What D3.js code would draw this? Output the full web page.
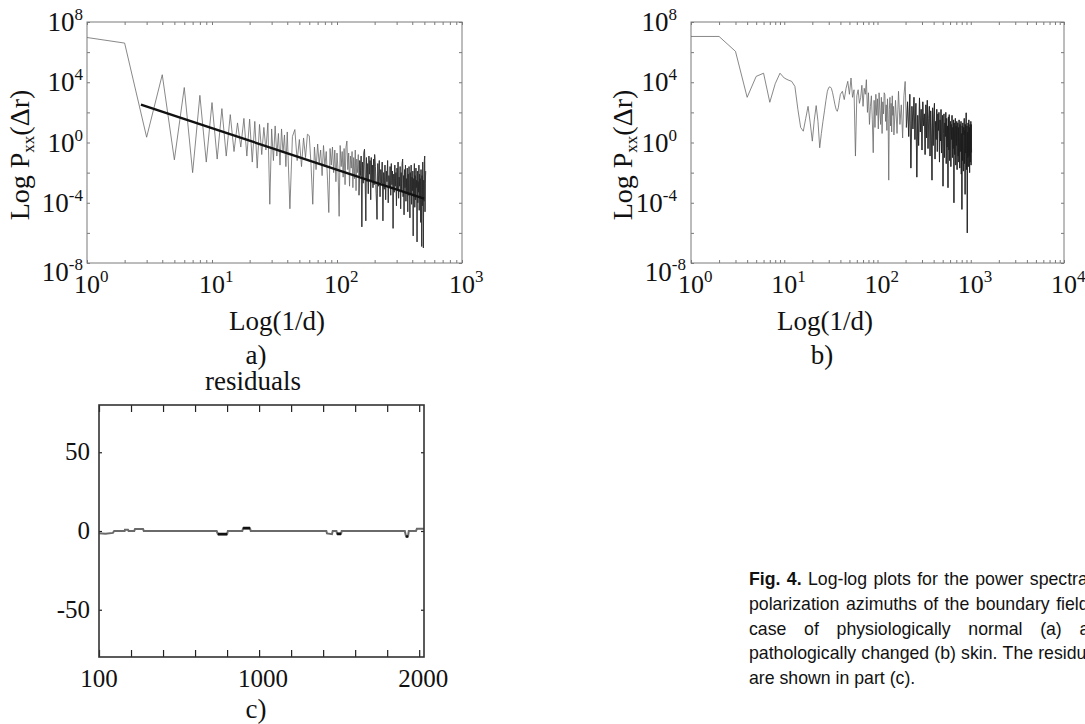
<!DOCTYPE html>
<html>
<head>
<meta charset="utf-8">
<script src="https://cdn.jsdelivr.net/npm/d3@7"></script>
<style>
body{margin:0;background:#fff;}
svg{display:block;}
</style>
</head>
<body>
<svg id="fig" width="1085" height="724"></svg>
<script>
// ---- panel a: log10 of power, bins 1..40, 42..200 (step 2), 203..512 (step 3)
const logPa1 = [6.97,6.6,0.35,4.5,-1.15,3.65,-2.0,3.13,-1.3,2.65,
  -1.1,2.25,-0.9,1.85,-0.6,1.3,-0.3,1.6,-0.9,1.55,
  -1.3,1.4,-1.7,1.2,-0.8,1.0,-0.5,1.3,-4.1,0.9,
  -1.2,1.1,-0.9,0.6,-1.5,0.9,-0.7,0.5,-1.6,0.7];
const logPa2 = [-4.4,0.4,0.86,-1.2,0.2,-1.6,0.3,-1.0,0.55,0.45,
  -1.5,-4.1,-0.3,-1.8,-0.1,-1.4,-0.5,-2.2,-0.2,-1.6,
  -0.6,-2.5,-4.65,-0.4,-1.5,-0.3,-2.0,-0.5,-2.6,-0.7,
  -1.9,-4.9,-0.2,-1.6,-0.6,-2.3,-0.4,-2.8,-0.3,0.1,
  -1.8,-0.7,-2.9,-0.9,-1.7,-0.6,-3.0,-1.0,-2.4,-0.5,
  -3.2,-1.1,-2.0,-0.8,-3.5,-1.2,-2.2,-0.9,-5.6,-1.3,
  -2.7,-0.7,-0.45,-2.3,-5.2,-1.0,-2.6,-1.4,-3.4,-0.9,
  -2.1,-1.2,-3.8,-1.0,-2.5,-1.5,-3.0,-1.1,-2.8,-0.8];
const logPa3 = [-1.6,-3.4,-5.1,-1.4,-2.9,-1.2,-3.6,-1.8,-2.7,-1.3,
  -5.2,-2.0,-3.1,-1.5,-3.8,-1.9,-2.6,-1.2,-4.0,-2.2,
  -3.0,-1.6,-3.5,-1.4,-2.8,-1.9,-5.7,-2.1,-3.3,-1.5,
  -2.9,-2.0,-4.2,-1.7,-3.1,-1.3,-3.7,-2.3,-2.9,-1.6,
  -4.4,-2.0,-3.2,-1.4,-1.1,-3.6,-2.2,-4.8,-1.8,-3.0,
  -1.5,-3.9,-2.4,-3.3,-1.7,-4.6,-2.1,-3.5,-1.6,-2.9,
  -5.0,-2.0,-3.4,-1.5,-4.1,-2.3,-3.2,-1.9,-6.2,-2.4,
  -3.6,-1.4,-4.3,-2.2,-3.8,-1.7,-3.0,-2.5,-6.6,-1.9,
  -4.0,-2.6,-3.3,-1.5,-4.5,-2.1,-3.7,-2.4,-5.3,-1.8,
  -3.4,-6.9,-2.2,-4.2,-1.3,-3.1,-7.0,-2.5,-3.9,-1.2,
  -0.9,-4.6,-2.7,-1.9];

// fitted line over panel a (end points)
const fitFreqA = [2.7, 497];
const fitLogPA = [2.52, -3.73];

// ---- panel b: bins 1..40, 42..150 (step 2), 156..1020 (step 6)
const logPb1 = [7.04,7.04,6.05,3.0,4.39,4.6,2.67,3.9,4.6,4.28,
  4.15,4.06,3.73,2.2,1.0,0.75,1.6,2.4,1.3,0.09,
  1.5,2.45,1.4,-0.35,0.6,1.4,2.1,2.8,3.4,3.65,
  3.7,3.6,3.3,2.9,2.5,2.2,2.07,2.3,2.8,3.2];
const logPb2 = [3.4,2.85,3.6,4.06,3.2,4.28,3.0,3.5,-0.9,3.1,
  3.5,2.6,3.0,3.8,2.4,3.6,3.2,4.17,2.0,3.3,
  1.2,2.4,3.1,1.5,-0.68,2.8,1.0,3.2,1.8,2.9,
  0.9,3.3,2.1,1.2,3.0,0.6,2.7,1.9,3.3,3.18,
  1.4,2.5,0.8,2.9,1.6,-2.5,2.2,3.0,1.1,2.6,
  0.7,3.1,1.8,2.4,0.5];
const logPb3 = [2.8,0.6,3.4,1.2,2.5,0.3,3.1,4.05,1.0,2.7,
  0.4,3.2,-1.7,2.4,0.9,3.0,0.2,2.6,-2.3,1.8,
  -0.2,2.96,0.7,2.2,-0.5,2.7,1.1,1.9,-0.8,2.5,
  0.3,2.8,-0.4,1.6,2.4,-0.9,2.1,0.5,-2.5,2.3,
  -0.2,1.7,2.6,-1.1,1.4,0.2,2.2,-0.6,1.9,0.8,
  2.0,-1.3,1.5,0.1,2.19,-0.7,1.2,1.8,-2.9,0.6,
  1.9,-1.0,1.3,0.4,2.0,-1.4,1.6,-0.3,1.1,-3.0,
  1.7,-0.5,1.85,-1.2,0.9,1.4,-1.6,1.2,0.2,1.8,
  -1.0,1.0,-0.4,1.5,-4.0,1.3,-0.8,0.7,1.6,-1.5,
  1.1,-0.2,1.4,-1.8,0.8,1.3,-0.9,1.0,-1.3,1.5,
  0.3,-1.7,1.2,-0.6,0.9,1.4,-2.1,0.6,-4.44,1.1,
  -1.2,1.3,0.1,-1.9,1.0,0.5,1.6,-1.4,0.8,-3.44,
  1.2,-0.7,0.9,1.97,-1.8,0.4,1.1,-6.0,0.7,-1.0,
  1.3,-1.6,0.5,1.5,-0.9,1.0,-2.0,0.8,1.2,-1.3,
  0.6,1.4,-1.5,1.19,-0.66];

// ---- panel c: residuals [sample, value]
const residuals = [[0,-1.5],[40,-1.8],[87,-1.2],[95,0],[160,0],[162,0.8],[181,0.8],[185,0],
  [220,0],[225,1.2],[275,1.2],[280,0],[735,0],[743,-2],[800,-2],[805,0],
  [895,0],[900,1.8],[943,1.8],[948,0],[1420,0],[1424,-1.5],[1455,-2],[1460,0],
  [1483,0],[1487,-1.8],[1512,-1.8],[1516,0],[1910,0],[1918,-3.5],[1930,-3.5],[1935,0],
  [1980,0],[1986,1.5],[2030,1.5]];

// ---- ticks and labels
const xExpA = [0,1,2,3];
const xExpB = [0,1,2,3,4];
const yExpLabels = [8,4,0,-4,-8];
const yExpTicks = [8,6,4,2,0,-2,-4,-6,-8];
const xTicksC = [0,200,400,600,800,1000,1200,1400,1600,1800,2000];
const xLabelValsC = [0,1000,2000];
const xLabelTextC = ["100","1000","2000"];
const yTicksC = [50,0,-50];

const captionLines = [
  "Fig. 4. Log-log plots for the power spectra of",
  "polarization azimuths of the boundary field in",
  "case of physiologically normal (a) and",
  "pathologically changed (b) skin. The residuals",
  "are shown in part (c)."
];

const serif = "'Liberation Serif','Times New Roman',serif";
const sans = "'Liberation Sans',Arial,sans-serif";

function bins(start, step, vals){
  return vals.map((v,i)=>({f:start+i*step, p:Math.pow(10,v)}));
}
const specA = [...bins(1,1,logPa1), ...bins(42,2,logPa2), ...bins(203,3,logPa3)];
const specB = [...bins(1,1,logPb1), ...bins(42,2,logPb2), ...bins(156,6,logPb3)];
const fitA = fitFreqA.map((f,i)=>({f:f, p:Math.pow(10,fitLogPA[i])}));

const svg = d3.select("#fig");
const frameCol = "#7a7a7a";

const yLogA = d3.scaleLog().domain([1e-8,1e8]).range([263,22]);
const xA = d3.scaleLog().domain([1,1000]).range([87,462]);
const xB = d3.scaleLog().domain([1,1e4]).range([691,1064]);
const xC = d3.scaleLinear().domain([0,2030]).range([99,424]);
const yC = d3.scaleLinear().domain([-80,80]).range([657,405]);

function clean(g){ g.select(".domain").remove(); g.selectAll(".tick line").attr("stroke",frameCol); }

function logPanel(id, x, y, exps, labelRight, lowShift, series, ylabX, xlabX, tag, tagX){
  const g = svg.append("g");
  const [x0,x1] = x.range(), [yb,yt] = y.range();
  g.append("clipPath").attr("id",id).append("rect")
    .attr("x",x0).attr("y",yt).attr("width",x1-x0).attr("height",yb-yt);

  const yt_vals = yExpTicks.map(e=>Math.pow(10,e));
  const xt = x.ticks();
  g.append("g").attr("transform",`translate(0,${yb})`)
    .call(d3.axisTop(x).tickValues(xt).tickSize(3).tickFormat("")).call(clean);
  g.append("g").attr("transform",`translate(0,${yt})`)
    .call(d3.axisBottom(x).tickValues(xt).tickSize(3).tickFormat("")).call(clean);
  g.append("g").attr("transform",`translate(${x0},0)`)
    .call(d3.axisRight(y).tickValues(yt_vals).tickSize(3).tickFormat("")).call(clean);
  g.append("g").attr("transform",`translate(${x1},0)`)
    .call(d3.axisLeft(y).tickValues(yt_vals).tickSize(3).tickFormat("")).call(clean);

  g.append("rect").attr("x",x0).attr("y",yt).attr("width",x1-x0).attr("height",yb-yt)
    .attr("fill","none").attr("stroke",frameCol).attr("stroke-width",1);

  series.forEach(s=>{
    g.append("path").datum(s.data)
      .attr("clip-path",`url(#${id})`)
      .attr("fill","none").attr("stroke",s.col).attr("stroke-width",s.w)
      .attr("stroke-linejoin","round")
      .attr("d", d3.line().x(d=>x(d.f)).y(d=>y(d.p)));
  });

  // y tick labels 10^n
  yExpLabels.forEach(e=>{
    const t = g.append("text").attr("font-family",serif).attr("font-size",27)
      .attr("text-anchor","end").attr("fill","#111")
      .attr("x", labelRight + (e===-8 ? lowShift : 0))
      .attr("y", y(Math.pow(10,e)) + (e===-8 ? 18 : 9));
    t.append("tspan").text("10");
    t.append("tspan").attr("dy",-11).attr("font-size",17).text(e);
  });
  // x tick labels 10^n
  exps.forEach(e=>{
    const t = g.append("text").attr("font-family",serif).attr("font-size",26)
      .attr("fill","#111").attr("x", x(Math.pow(10,e)) - 13).attr("y", 293);
    t.append("tspan").text("10");
    t.append("tspan").attr("dy",-11).attr("font-size",17).text(e);
  });

  const yl = g.append("text").attr("font-family",serif).attr("font-size",28).attr("fill","#111")
    .attr("text-anchor","middle")
    .attr("transform",`translate(${ylabX},155) rotate(-90)`);
  yl.append("tspan").text("Log P");
  yl.append("tspan").attr("font-size",17).attr("dy",5).text("xx");
  yl.append("tspan").attr("dy",-5).text("(Δr)");

  g.append("text").attr("font-family",serif).attr("font-size",27).attr("fill","#111")
    .attr("text-anchor","middle").attr("x",xlabX).attr("y",330).text("Log(1/d)");
  g.append("text").attr("font-family",serif).attr("font-size",27).attr("fill","#111")
    .attr("text-anchor","middle").attr("x",tagX).attr("y",364).text(tag);
}

// light trace for the whole spectrum, darker over the crowded high-frequency end
logPanel("clipA", xA, yLogA, xExpA, 83, 0,
  [{data:specA, col:"#6a6a6a", w:0.8},
   {data:specA.filter(d=>d.f>=150), col:"#222", w:0.6},
   {data:fitA, col:"#111", w:2.4}], 29, 277, "a)", 256);
logPanel("clipB", xB, yLogA, xExpB, 677, 9,
  [{data:specB, col:"#6a6a6a", w:0.8},
   {data:specB.filter(d=>d.f>=200), col:"#1a1a1a", w:0.7}], 632, 825, "b)", 822);

// ---- panel c
const gC = svg.append("g");
const [cx0,cx1] = xC.range(), [cyb,cyt] = yC.range();
function cleanC(g){ g.select(".domain").remove(); g.selectAll(".tick line").attr("stroke","#222").attr("stroke-width",1.2); }
gC.append("g").attr("transform",`translate(0,${cyb})`)
  .call(d3.axisTop(xC).tickValues(xTicksC).tickSize(7).tickFormat("")).call(cleanC);
gC.append("g").attr("transform",`translate(0,${cyt})`)
  .call(d3.axisBottom(xC).tickValues(xTicksC).tickSize(7).tickFormat("")).call(cleanC);
gC.append("g").attr("transform",`translate(${cx0},0)`)
  .call(d3.axisRight(yC).tickValues(yTicksC).tickSize(3).tickFormat("")).call(cleanC);
gC.append("g").attr("transform",`translate(${cx1},0)`)
  .call(d3.axisLeft(yC).tickValues(yTicksC).tickSize(3).tickFormat("")).call(cleanC);

gC.append("path").datum(residuals)
  .attr("fill","none").attr("stroke","#6a6a6a").attr("stroke-width",2)
  .attr("d", d3.line().x(d=>xC(d[0])).y(d=>yC(d[1])));
gC.append("path").datum(residuals)
  .attr("fill","none").attr("stroke","#111").attr("stroke-width",2.6)
  .attr("d", d3.line().defined(d=>Math.abs(d[1])>=1.8).x(d=>xC(d[0])).y(d=>yC(d[1])));

gC.append("rect").attr("x",cx0).attr("y",cyt).attr("width",cx1-cx0).attr("height",cyb-cyt)
  .attr("fill","none").attr("stroke","#333").attr("stroke-width",1.6);

yTicksC.forEach(v=>{
  gC.append("text").attr("font-family",serif).attr("font-size",25).attr("fill","#111")
    .attr("text-anchor","end").attr("x",90).attr("y",yC(v)+8).text(v);
});
xLabelValsC.forEach((v,i)=>{
  gC.append("text").attr("font-family",serif).attr("font-size",25).attr("fill","#111")
    .attr("text-anchor","middle").attr("x",xC(v)+ (i===0?0:4)).attr("y",687).text(xLabelTextC[i]);
});
gC.append("text").attr("font-family",serif).attr("font-size",27).attr("fill","#111")
  .attr("text-anchor","middle").attr("x",253).attr("y",390).text("residuals");
gC.append("text").attr("font-family",serif).attr("font-size",27).attr("fill","#111")
  .attr("text-anchor","middle").attr("x",256).attr("y",718).text("c)");

// ---- caption, justified lines
const capX = 749, capW = 360, capFs = 17.7, capY0 = 585, capDy = 24.8;
const gT = svg.append("g").attr("font-family",sans).attr("font-size",capFs).attr("fill","#111");
captionLines.forEach((line,li)=>{
  const words = line.split(" ");
  const nodes = words.map((w,wi)=>{
    const t = gT.append("text").attr("y",capY0+li*capDy).text(w);
    if(li===0 && wi<2) t.attr("font-weight","bold");
    return t;
  });
  const widths = nodes.map(n=>n.node().getComputedTextLength());
  const sum = d3.sum(widths);
  const last = li===captionLines.length-1;
  const gap = last ? capFs*0.278 : (capW-sum)/(words.length-1);
  let xx = capX;
  nodes.forEach((n,i)=>{ n.attr("x",xx); xx += widths[i]+gap; });
});
</script>
</body>
</html>
